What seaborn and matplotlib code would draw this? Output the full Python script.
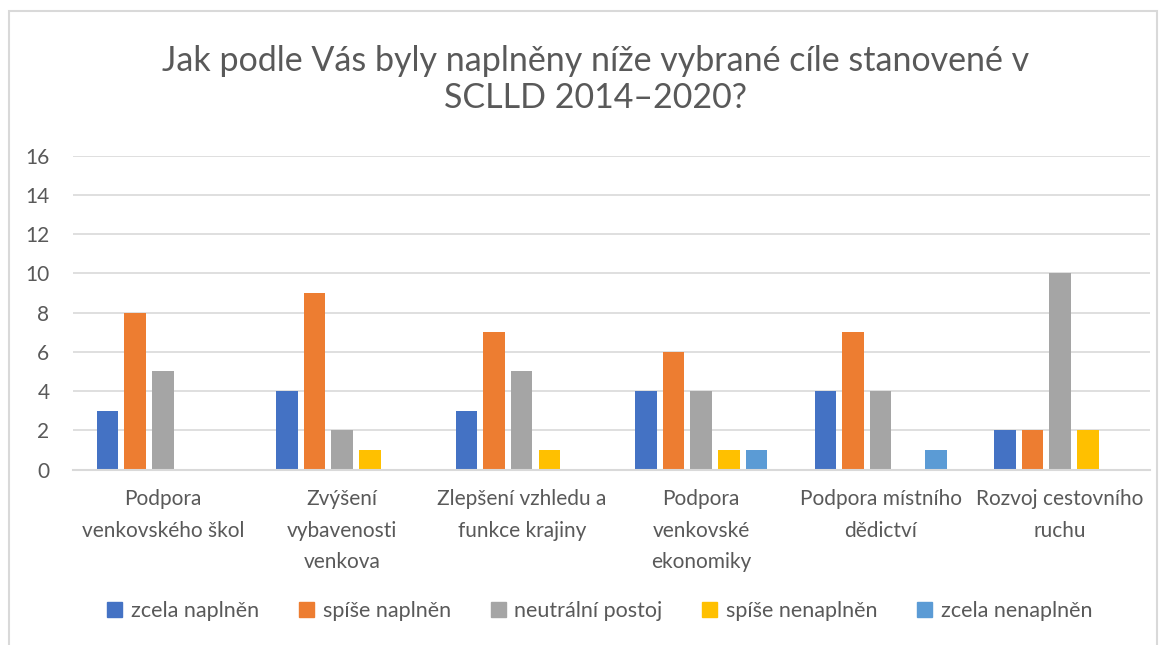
import pandas as pd
import matplotlib.pyplot as plt
import seaborn as sns
from matplotlib.patches import Rectangle

# data
categories = [
    'Podpora\nvenkovského škol',
    'Zvýšení\nvybavenosti\nvenkova',
    'Zlepšení vzhledu a\nfunkce krajiny',
    'Podpora\nvenkovské\nekonomiky',
    'Podpora místního\ndědictví',
    'Rozvoj cestovního\nruchu',
]
series = ['zcela naplněn', 'spíše naplněn', 'neutrální postoj', 'spíše nenaplněn', 'zcela nenaplněn']
zcela_naplnen = [3, 4, 3, 4, 4, 2]
spise_naplnen = [8, 9, 7, 6, 7, 2]
neutralni = [5, 2, 5, 4, 4, 10]
spise_nenaplnen = [0, 1, 1, 1, 0, 2]
zcela_nenaplnen = [0, 0, 0, 1, 1, 0]
colors = ['#4472C4', '#ED7D31', '#A5A5A5', '#FFC000', '#5B9BD5']

title = 'Jak podle Vás byly naplněny níže vybrané cíle stanovené v\nSCLLD 2014–2020?'

rows = []
for name, vals in zip(series, [zcela_naplnen, spise_naplnen, neutralni, spise_nenaplnen, zcela_nenaplnen]):
    for cat, v in zip(categories, vals):
        rows.append({'cil': cat, 'odpoved': name, 'pocet': v})
df = pd.DataFrame(rows)

sns.set_style('white')
plt.rcParams['font.family'] = ['Lato', 'DejaVu Sans']
text_color = '#595959'

fig = plt.figure(figsize=(11.65, 6.45), dpi=100)
ax = fig.add_axes([0.0627, 0.272, 0.9243, 0.4866])

sns.barplot(data=df, x='cil', y='pocet', hue='odpoved', order=categories, hue_order=series,
            palette=colors, saturation=1, width=0.77, gap=0.22, linewidth=0, ax=ax, legend=False)

ax.set_ylim(0, 16)
ax.set_yticks(range(0, 17, 2))
ax.set_xlim(-0.5, len(categories) - 0.5)
ax.yaxis.grid(True, color='#D9D9D9', linewidth=1.2)
ax.set_axisbelow(True)
for s in ['left', 'right', 'top']:
    ax.spines[s].set_visible(False)
ax.spines['bottom'].set_color('#D9D9D9')
ax.spines['bottom'].set_linewidth(1.5)
ax.set_xlabel('')
ax.set_ylabel('')
ax.tick_params(axis='y', length=0, pad=17, labelsize=15, labelcolor=text_color)
ax.tick_params(axis='x', length=0, pad=14, labelsize=15, labelcolor=text_color)
for lbl in ax.get_xticklabels():
    lbl.set_linespacing(1.72)
    lbl.set_verticalalignment('top')

fig.text(0.511, 0.877, title, ha='center', va='center', fontsize=24.5, color=text_color, linespacing=1.2)

handles = [Rectangle((0, 0), 1, 1, color=c) for c in colors]
fig.legend(handles, series, loc='center', bbox_to_anchor=(0.515, 0.052), ncol=5, frameon=False,
           fontsize=15.5, labelcolor=text_color, handlelength=0.7, handleheight=0.7,
           handletextpad=0.4, columnspacing=1.85)

# light chart frame like the original
fig.patches.append(Rectangle((9 / 1165, -0.1), 1148 / 1165, 1 - 11 / 645 + 0.1, transform=fig.transFigure,
                             fill=False, edgecolor='#D9D9D9', linewidth=1.5))

fig.savefig('out.png', dpi=100)
